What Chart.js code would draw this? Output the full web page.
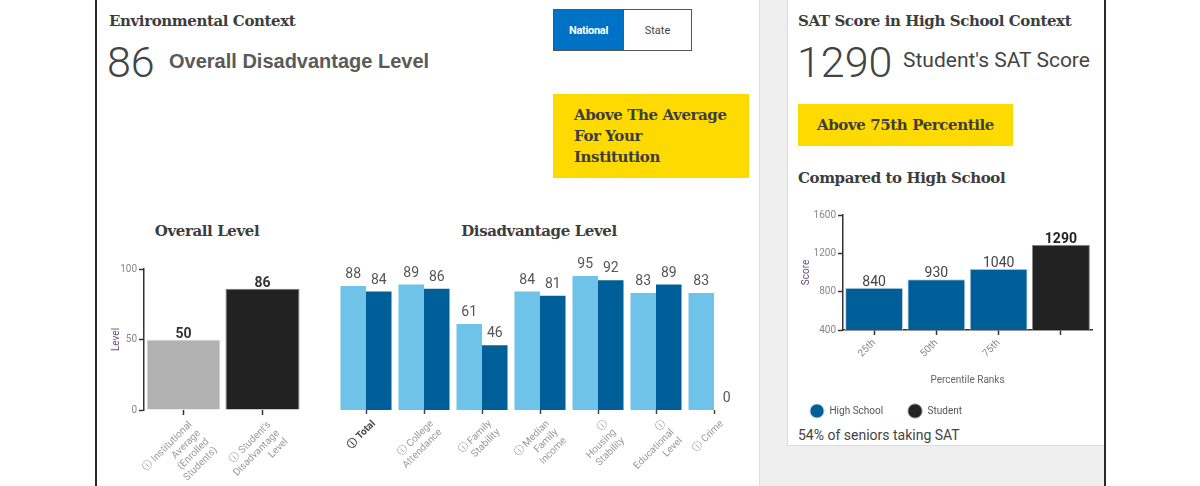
<!DOCTYPE html>
<html>
<head>
<meta charset="utf-8">
<script src="https://cdn.jsdelivr.net/npm/chart.js@4.4.1/dist/chart.umd.min.js"></script>
<style>
  html, body { margin:0; padding:0; width:1200px; height:486px; overflow:hidden; background:#fff; font-family: Roboto, 'DejaVu Sans', sans-serif; }
  .abs { position:absolute; white-space:nowrap; }
  .slab { font-family:'DejaVu Serif', serif; font-weight:bold; color:#3d3d3d; font-size:15px; line-height:1; letter-spacing:-0.4px; }
  canvas { position:absolute; }
</style>
</head>
<body>
<!-- frame / background -->
<div class="abs" style="left:95px;top:0;width:2px;height:486px;background:#2a2a2a"></div>
<div class="abs" style="left:759px;top:0;width:345px;height:486px;background:#efefef;border-left:1px solid #dedede;"></div>
<div class="abs" style="left:787px;top:-1px;width:316px;height:445px;background:#fff;border:1px solid #dcdcdc;"></div>
<div class="abs" style="left:1104px;top:0;width:2px;height:486px;background:#2a2a2a"></div>

<!-- left panel header -->
<div class="abs slab" style="left:109px;top:14px;">Environmental Context</div>
<div class="abs" style="left:107px;top:41px;font-size:43px;line-height:1;font-weight:300;color:#444;">86</div>
<div class="abs" style="left:169px;top:51px;font-family:'Liberation Sans',Arial,sans-serif;font-weight:bold;font-size:20px;line-height:1;color:#5a5a5a;">Overall Disadvantage Level</div>

<!-- toggle -->
<div class="abs" style="left:553px;top:9px;width:137px;height:40px;border:1px solid #555;display:flex;">
  <div style="width:69px;height:40px;background:#0072c6;color:#fff;font-weight:bold;font-size:11px;letter-spacing:-0.3px;display:flex;align-items:center;justify-content:center;border-right:1px solid #555;">National</div>
  <div style="width:67px;height:40px;background:#fff;color:#444;font-size:11px;display:flex;align-items:center;justify-content:center;">State</div>
</div>

<!-- yellow callout 1 -->
<div class="abs" style="left:553px;top:94px;width:196px;height:84px;background:#ffda00;"></div>
<div class="abs slab" style="left:574px;top:105px;line-height:21px;">Above The Average<br>For Your<br>Institution</div>

<!-- chart titles -->
<div class="abs slab" style="left:106px;top:224px;width:202px;text-align:center;">Overall Level</div>
<div class="abs slab" style="left:439px;top:224px;width:200px;text-align:center;">Disadvantage Level</div>

<!-- right card -->
<div class="abs slab" style="left:798px;top:14px;">SAT Score in High School Context</div>
<div class="abs" style="left:797px;top:41px;font-size:43px;line-height:1;font-weight:300;color:#444;">1290</div>
<div class="abs" style="left:903px;top:50px;font-size:21px;line-height:1;color:#444;">Student's SAT Score</div>
<div class="abs" style="left:798px;top:104px;width:215px;height:42px;background:#ffda00;"></div>
<div class="abs slab" style="left:798px;top:118px;width:215px;text-align:center;">Above 75th Percentile</div>
<div class="abs slab" style="left:798px;top:171px;">Compared to High School</div>
<div class="abs" style="left:798px;top:428px;font-size:14px;line-height:1;color:#444;">54% of seniors taking SAT</div>

<canvas id="overall" width="215" height="231" style="left:100px;top:255px;"></canvas>
<canvas id="disadv" width="430" height="231" style="left:320px;top:255px;"></canvas>
<canvas id="sat" width="320" height="226" style="left:780px;top:200px;"></canvas>

<script>
// ---------- data ----------
const overallCategories = [
  ['ⓘ Institutional', 'Average', '(Enrolled', 'Students)'],
  ['ⓘ Student\'s', 'Disadvantage', 'Level']
];
const overallValues = [50, 86];
const overallColors = ['#b1b1b1', '#222222'];

const disadvCategories = [
  ['ⓘ Total'],
  ['ⓘ College', 'Attendance'],
  ['ⓘ Family', 'Stability'],
  ['ⓘ Median', 'Family', 'Income'],
  ['ⓘ', 'Housing', 'Stability'],
  ['ⓘ', 'Educational', 'Level'],
  ['ⓘ Crime']
];
const disadvNeighborhood = [88, 89, 61, 84, 95, 83, 83];
const disadvHighSchool   = [84, 86, 46, 81, 92, 89, 0];

const satCategories = ['25th', '50th', '75th', ''];
const satHighSchool = [840, 930, 1040, null];
const satStudent    = [null, null, null, 1290];

// ---------- helpers ----------
Chart.defaults.font.family = "Roboto, 'DejaVu Sans', sans-serif";
Chart.defaults.animation = false;

const valueLabels = {
  id: 'valueLabels',
  afterDatasetsDraw(chart, args, opts) {
    const ctx = chart.ctx;
    chart.data.datasets.forEach((ds, di) => {
      const meta = chart.getDatasetMeta(di);
      meta.data.forEach((el, i) => {
        const v = ds.data[i];
        if (v === null || v === undefined) return;
        ctx.save();
        ctx.font = opts.font(di, i, v);
        ctx.fillStyle = opts.color(di, i, v);
        ctx.textAlign = 'center';
        ctx.textBaseline = 'alphabetic';
        ctx.fillText(String(v), el.x, el.y - opts.gap);
        ctx.restore();
      });
    });
  }
};

// nudges the rotated category labels along the axis
const shiftLabels = {
  id: 'shiftLabels',
  beforeDraw(chart, args, opts) {
    const s = chart.scales.x;
    if (!s || !opts || (!opts.dx && !opts.dy)) return;
    const items = s.getLabelItems(chart.chartArea);
    if (items._shifted) return;
    items.forEach(it => {
      it.options.translation = [it.options.translation[0] + opts.dx, it.options.translation[1] + opts.dy];
    });
    items._shifted = true;
  }
};

function fixW(w) { return s => { s.width = w; s.paddingTop = 0; s.paddingBottom = 0; }; }
function fixH(h) { return s => { s.height = h; s.paddingLeft = 0; s.paddingRight = 0; }; }

const tickFont = { size: 10 };

// ---------- Overall Level ----------
new Chart(document.getElementById('overall'), {
  type: 'bar',
  data: {
    labels: overallCategories,
    datasets: [{
      label: 'Level',
      data: overallValues,
      backgroundColor: overallColors,
      borderColor: ['#e8e8e8', '#777'],
      borderWidth: 1,
      barPercentage: 0.937,
      categoryPercentage: 1
    }]
  },
  options: {
    responsive: false,
    devicePixelRatio: 1,
    layout: { padding: { top: 14, left: 0, right: 13, bottom: 0 } },
    plugins: {
      legend: { display: false },
      tooltip: { enabled: false },
      shiftLabels: { dx: 7, dy: 2 },
      valueLabels: {
        gap: 2,
        font: () => "bold 14px Roboto, 'DejaVu Sans', sans-serif",
        color: () => '#333'
      }
    },
    scales: {
      x: {
        afterFit: fixH(76),
        border: { display: false },
        grid: { display: true, offset: false, drawOnChartArea: false, drawTicks: true, tickLength: 5, tickColor: '#333', tickWidth: 1.5 },
        ticks: { autoSkip: false, minRotation: 45, maxRotation: 45, padding: 2, color: '#999', font: tickFont }
      },
      y: {
        min: 0, max: 100,
        afterFit: fixW(44),
        border: { display: true, color: '#333', width: 1.5 },
        grid: { display: true, drawOnChartArea: false, drawTicks: true, tickLength: 5, tickColor: '#333', tickWidth: 1.5 },
        ticks: { stepSize: 50, padding: 2, color: '#888', font: tickFont },
        title: { display: true, text: 'Level', color: '#6b4d7e', font: { size: 10 }, padding: { top: 10, bottom: 0 } }
      }
    }
  },
  plugins: [valueLabels, shiftLabels]
});

// ---------- Disadvantage Level ----------
new Chart(document.getElementById('disadv'), {
  type: 'bar',
  data: {
    labels: disadvCategories,
    datasets: [
      { label: 'Neighborhood', data: disadvNeighborhood, backgroundColor: '#6fc3e8', barPercentage: 1, categoryPercentage: 0.88 },
      { label: 'High School', data: disadvHighSchool, backgroundColor: '#005f98', barPercentage: 1, categoryPercentage: 0.88 }
    ]
  },
  options: {
    responsive: false,
    devicePixelRatio: 1,
    layout: { padding: { top: 14, left: 17, right: 7, bottom: 0 } },
    plugins: {
      legend: { display: false },
      tooltip: { enabled: false },
      shiftLabels: { dx: 8, dy: 2 },
      valueLabels: {
        gap: 8,
        font: () => "14px Roboto, 'DejaVu Sans', sans-serif",
        color: () => '#555'
      }
    },
    scales: {
      x: {
        afterFit: fixH(76),
        border: { display: false },
        grid: { display: true, offset: false, drawOnChartArea: false, drawTicks: true, tickLength: 4, tickColor: '#444', tickWidth: 1.5 },
        ticks: {
          autoSkip: false, minRotation: 45, maxRotation: 45, padding: 2,
          color: c => c.index === 0 ? '#444' : '#999',
          font: c => c.index === 0 ? { size: 10, weight: 'bold' } : { size: 10 }
        }
      },
      y: { display: false, min: 0, max: 100 }
    }
  },
  plugins: [valueLabels, shiftLabels]
});

// ---------- SAT vs High School ----------
new Chart(document.getElementById('sat'), {
  type: 'bar',
  data: {
    labels: satCategories,
    datasets: [
      { label: ' High School      ', data: satHighSchool, backgroundColor: '#005f98', borderColor: '#c9d6e3', borderWidth: 1, barPercentage: 0.932, categoryPercentage: 1 },
      { label: ' Student', data: satStudent, backgroundColor: '#222222', borderColor: '#888', borderWidth: 1, barPercentage: 0.932, categoryPercentage: 1 }
    ]
  },
  options: {
    responsive: false,
    devicePixelRatio: 1,
    skipNull: true,
    layout: { padding: { top: 15, left: 20, right: 8, bottom: 0 } },
    plugins: {
      legend: {
        display: true, position: 'bottom', align: 'start',
        labels: { usePointStyle: true, pointStyle: 'circle', padding: 12, color: '#555', font: { size: 10 } }
      },
      tooltip: { enabled: false },
      valueLabels: {
        gap: 2,
        font: (di) => di === 1 ? "bold 14px Roboto, 'DejaVu Sans', sans-serif" : "14px Roboto, 'DejaVu Sans', sans-serif",
        color: (di) => di === 1 ? '#222' : '#444'
      }
    },
    scales: {
      x: {
        afterFit: fixH(64),
        border: { display: true, color: '#333', width: 1.5 },
        grid: { display: true, offset: false, drawOnChartArea: false, drawTicks: true, tickLength: 5, tickColor: '#333', tickWidth: 1.5 },
        ticks: { autoSkip: false, minRotation: 45, maxRotation: 45, padding: 2, color: '#888', font: tickFont },
        title: { display: true, text: 'Percentile Ranks', color: '#666', font: { size: 10 }, padding: { top: 0, bottom: 8 } }
      },
      y: {
        min: 400, max: 1600,
        afterFit: fixW(43),
        border: { display: true, color: '#333', width: 1.5 },
        grid: { display: true, drawOnChartArea: false, drawTicks: true, tickLength: 5, tickColor: '#333', tickWidth: 1.5 },
        ticks: { stepSize: 400, padding: 2, color: '#888', font: tickFont, callback: v => String(v) },
        title: { display: true, text: 'Score', color: '#6b4d7e', font: { size: 10 }, padding: { top: 0, bottom: 0 } }
      }
    }
  },
  plugins: [valueLabels]
});
</script>
</body>
</html>
